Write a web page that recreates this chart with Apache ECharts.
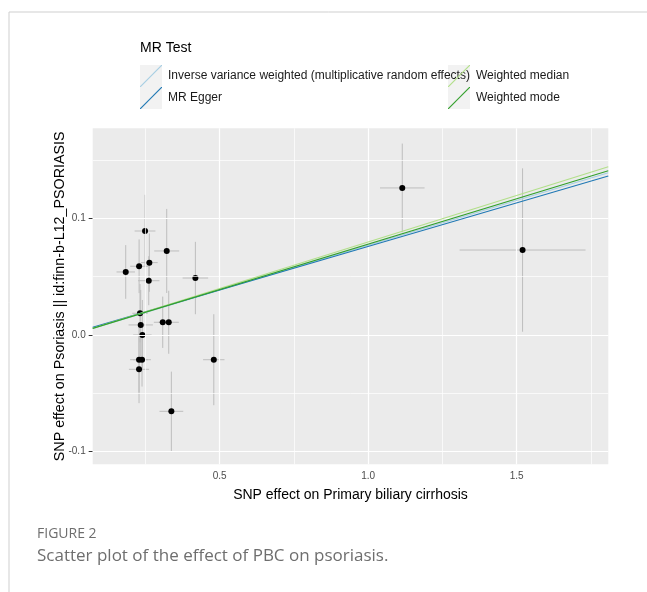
<!DOCTYPE html>
<html>
<head>
<meta charset="utf-8">
<script src="https://cdn.jsdelivr.net/npm/echarts@6/dist/echarts.min.js"></script>
<style>
  html, body { margin: 0; padding: 0; background: #fff; }
  #chart { width: 647px; height: 592px; }
</style>
</head>
<body>
<div id="chart"></div>
<script>
// SNP-level effects: exposure (PBC) on x, outcome (psoriasis) on y, with standard errors
const snpBetaExposure = [0.249, 0.322, 0.2635, 0.229, 0.184, 0.2615, 0.4185, 0.232, 0.2345, 0.3086,
                         0.3288, 0.240, 0.2288, 0.2389, 0.2288, 0.4805, 0.3376, 1.115, 1.520];
const snpBetaOutcome  = [0.0891, 0.072, 0.062, 0.0589, 0.054, 0.0465, 0.0488, 0.0186, 0.0086, 0.0109,
                         0.0109, 0.0, -0.0212, -0.0212, -0.0294, -0.0212, -0.0654, 0.126, 0.0728];
const snpSeExposure   = [0.035, 0.042, 0.028, 0.030, 0.031, 0.036, 0.043, 0.026, 0.041, 0.030,
                         0.034, 0.031, 0.030, 0.030, 0.034, 0.036, 0.040, 0.075, 0.212];
const snpSeOutcome    = [0.031, 0.036, 0.025, 0.023, 0.023, 0.021, 0.031, 0.025, 0.030, 0.022,
                         0.027, 0.030, 0.028, 0.023, 0.029, 0.039, 0.034, 0.038, 0.070];

// MR method estimates (slope, intercept)
const methods    = ['Inverse variance weighted (multiplicative random effects)', 'MR Egger',
                    'Weighted median', 'Weighted mode'];
const slopes     = [0.0769, 0.0747, 0.0797, 0.0778];
const intercepts = [0, 0.0012, 0, 0];
const methodColors = ['#a6cee3', '#1f78b4', '#b2df8a', '#33a02c'];

// Axis ranges and ticks
const xRange = [0.0728, 1.8086];
const yRange = [-0.1108, 0.1771];
const xMajor = [0.5, 1.0, 1.5];
const xMinor = [0.25, 0.75, 1.25, 1.75];
const yMajor = [-0.1, 0.0, 0.1];
const yMinor = [-0.05, 0.05, 0.15];

const FONT = 'Liberation Sans';

const errData = snpBetaExposure.map((x, i) => [x, snpBetaOutcome[i], snpSeExposure[i], snpSeOutcome[i]]);
const ptData = snpBetaExposure.map((x, i) => [x, snpBetaOutcome[i]]);

const gridLines = [];
xMajor.forEach(v => gridLines.push({ xAxis: v, lineStyle: { width: 1.2 } }));
xMinor.forEach(v => gridLines.push({ xAxis: v, lineStyle: { width: 0.7 } }));
yMajor.forEach(v => gridLines.push({ yAxis: v, lineStyle: { width: 1.2 } }));
yMinor.forEach(v => gridLines.push({ yAxis: v, lineStyle: { width: 0.7 } }));

const fitSeries = methods.map((name, i) => ({
  name: name,
  type: 'line',
  z: 5,
  symbol: 'none',
  silent: true,
  animation: false,
  clip: true,
  itemStyle: { color: methodColors[i], borderWidth: 0 },
  lineStyle: { color: methodColors[i], width: 1.1 },
  data: xRange.map(x => [x, intercepts[i] + slopes[i] * x])
}));

// legend key: thin diagonal stroke across the key box
const keyIcon = 'path://M0,22L0,21.2L21.2,0L22,0L22,0.8L0.8,22Z';
const KEY_TOP = 65;
const legendBase = {
  orient: 'vertical',
  top: KEY_TOP,
  padding: 0,
  itemWidth: 22,
  itemHeight: 22,
  itemGap: 0,
  icon: keyIcon,
  selectedMode: false,
  itemStyle: { borderWidth: 0 },
  textStyle: { fontSize: 12, color: '#1a1a1a', fontFamily: FONT, padding: [0, 0, 0, 1] }
};

const chart = echarts.init(document.getElementById('chart'), null, { renderer: 'canvas' });
chart.setOption({
  animation: false,
  backgroundColor: '#ffffff',
  title: {
    text: 'MR Test',
    left: 140,
    top: 41,
    padding: 0,
    textStyle: { fontSize: 14, fontWeight: 'normal', color: '#000', fontFamily: FONT }
  },
  legend: [
    Object.assign({}, legendBase, { left: 140, data: [methods[0], methods[1]] }),
    Object.assign({}, legendBase, { left: 448, data: [methods[2], methods[3]] })
  ],
  graphic: [
    { type: 'rect', left: 6.5, top: 9.5, z: -10, shape: { width: 700, height: 700 },
      style: { fill: 'none', stroke: '#cfcfcf', lineWidth: 1 } },
    { type: 'rect', left: 140, top: KEY_TOP, z: -5, shape: { width: 22, height: 44 }, style: { fill: '#f2f2f2' } },
    { type: 'rect', left: 448, top: KEY_TOP, z: -5, shape: { width: 22, height: 44 }, style: { fill: '#f2f2f2' } },
    { type: 'text', left: 37, top: 527,
      style: { text: 'FIGURE 2', fontSize: 14, fill: '#6e6e6e', fontFamily: 'Open Sans' } },
    { type: 'text', left: 37, top: 548,
      style: { text: 'Scatter plot of the effect of PBC on psoriasis.', fontSize: 17, fill: '#6e6e6e',
               fontFamily: 'Open Sans' } }
  ],
  grid: {
    left: 92.7, top: 128.3, right: 38.7, bottom: 127.7,
    show: true, backgroundColor: '#ebebeb', borderWidth: 0
  },
  xAxis: {
    type: 'value',
    min: xRange[0], max: xRange[1],
    name: 'SNP effect on Primary biliary cirrhosis',
    nameLocation: 'middle',
    nameGap: 24,
    nameMoveOverlap: false,
    nameTextStyle: { fontSize: 14, color: '#000', fontFamily: FONT },
    axisLine: { show: false },
    splitLine: { show: false },
    axisTick: { show: true, length: 4, customValues: xMajor, lineStyle: { color: '#333' } },
    axisLabel: { customValues: xMajor, margin: 7, fontSize: 10, color: '#4d4d4d', fontFamily: FONT,
                 formatter: v => v.toFixed(1) }
  },
  yAxis: {
    type: 'value',
    min: yRange[0], max: yRange[1],
    name: 'SNP effect on Psoriasis || id:finn-b-L12_PSORIASIS',
    nameLocation: 'middle',
    nameRotate: 90,
    nameGap: 26,
    nameMoveOverlap: false,
    nameTextStyle: { fontSize: 14.3, color: '#000', fontFamily: FONT },
    axisLine: { show: false },
    splitLine: { show: false },
    axisTick: { show: true, length: 4, customValues: yMajor, lineStyle: { color: '#333' } },
    axisLabel: { customValues: yMajor, margin: 7, fontSize: 10, color: '#4d4d4d', fontFamily: FONT,
                 formatter: v => v.toFixed(1) }
  },
  series: [
    {
      type: 'line',
      z: 0,
      silent: true,
      data: [],
      markLine: {
        silent: true,
        symbol: 'none',
        label: { show: false },
        animation: false,
        lineStyle: { color: '#ffffff', type: 'solid' },
        data: gridLines
      }
    },
    {
      type: 'custom',
      z: 2,
      silent: true,
      clip: true,
      data: errData,
      renderItem: (params, api) => {
        const x = api.value(0), y = api.value(1), sx = api.value(2), sy = api.value(3);
        const a = api.coord([x - sx, y]), b = api.coord([x + sx, y]);
        const c = api.coord([x, y - sy]), d = api.coord([x, y + sy]);
        const st = { stroke: '#bdbdbd', lineWidth: 1 };
        return {
          type: 'group',
          children: [
            { type: 'line', shape: { x1: a[0], y1: a[1], x2: b[0], y2: b[1] }, style: st },
            { type: 'line', shape: { x1: c[0], y1: c[1], x2: d[0], y2: d[1] }, style: st }
          ]
        };
      }
    },
    {
      type: 'scatter',
      z: 3,
      silent: true,
      symbolSize: 6,
      itemStyle: { color: '#000', opacity: 1 },
      data: ptData
    }
  ].concat(fitSeries)
});
</script>
</body>
</html>
